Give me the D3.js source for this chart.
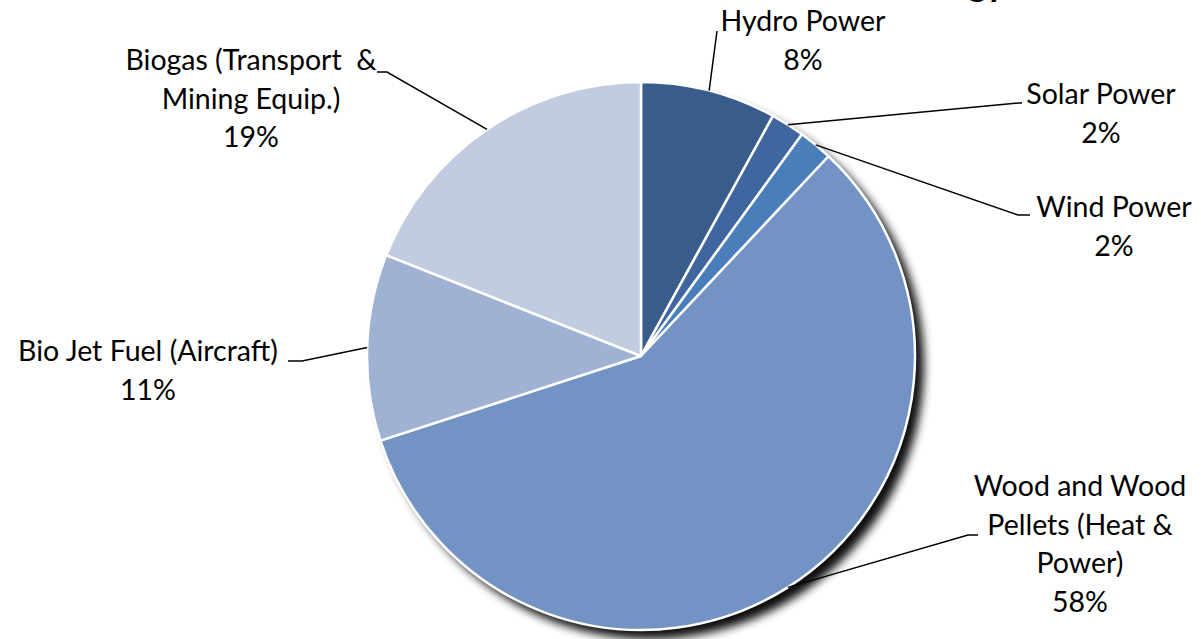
<!DOCTYPE html>
<html>
<head>
<meta charset="utf-8">
<script src="https://cdn.jsdelivr.net/npm/d3@7"></script>
<style>
  html, body { margin: 0; padding: 0; background: #fff; }
  text { font-family: Lato, "Open Sans", sans-serif; fill: #000; white-space: pre; }
</style>
</head>
<body>
<div id="chart"></div>
<script>
// slices, clockwise from 12 o'clock
var categories = ["Hydro Power", "Solar Power", "Wind Power",
  "Wood and Wood Pellets (Heat & Power)", "Bio Jet Fuel (Aircraft)",
  "Biogas (Transport & Mining Equip.)"];
var values = [8, 2, 2, 58, 11, 19];
var labelLines = [
  ["Hydro Power", "8%"],
  ["Solar Power", "2%"],
  ["Wind Power", "2%"],
  ["Wood and Wood", "Pellets (Heat &", "Power)", "58%"],
  ["Bio Jet Fuel (Aircraft)", "11%"],
  ["Biogas (Transport  &", "Mining Equip.)", "19%"]
];
var colors = ["#385d8a", "#4066a0", "#4a7ebb", "#7393c5", "#a0b2d4", "#c2cce1"];

// label layout: text centre x, first baseline y, elbow of the leader line
var labelPos = [
  { x: 803, y: 31, elbow: [[717, 31]] },
  { x: 1101, y: 104, elbow: [[1018, 103], [1022, 103]] },
  { x: 1114, y: 217, elbow: [[1018, 215], [1030, 215]] },
  { x: 1080, y: 496, elbow: [[968, 535], [978, 535]] },
  { x: 148, y: 361, elbow: [[302, 361], [288, 361]] },
  { x: 251, y: 70, elbow: [[387, 72], [377, 72]] }
];

var width = 1201, height = 639;
var cx = 641, cy = 356, radius = 274;
var lineH = 38.5;

var svg = d3.select("#chart").append("svg")
  .attr("width", width)
  .attr("height", height);

var defs = svg.append("defs");
var f = defs.append("filter").attr("id", "shadow")
  .attr("x", "-20%").attr("y", "-20%").attr("width", "140%").attr("height", "140%");
f.append("feGaussianBlur").attr("in", "SourceAlpha").attr("stdDeviation", 5).attr("result", "b");
f.append("feOffset").attr("in", "b").attr("dx", 9).attr("dy", 9).attr("result", "o");
f.append("feComponentTransfer").attr("in", "o")
  .append("feFuncA").attr("type", "linear").attr("slope", 0.95);

// cut-off title at the top edge
svg.append("text")
  .attr("x", 1006).attr("y", -4)
  .attr("text-anchor", "end")
  .style("font-size", "36px").style("font-weight", "bold")
  .text("Energy");

var pie = d3.pie().sort(null).value(function(d) { return d; });
var arcs = pie(values);
var arc = d3.arc().innerRadius(0).outerRadius(radius);

var g = svg.append("g").attr("transform", "translate(" + cx + "," + cy + ")");

g.append("circle").attr("r", radius).attr("fill", "#333").attr("filter", "url(#shadow)");

g.selectAll("path.slice")
  .data(arcs)
  .enter().append("path")
  .attr("class", "slice")
  .attr("d", arc)
  .attr("fill", function(d, i) { return colors[i]; })
  .attr("stroke", "#fff")
  .attr("stroke-width", 2.5)
  .attr("stroke-linejoin", "round");

// leader lines
arcs.forEach(function(d, i) {
  var a = (d.startAngle + d.endAngle) / 2;
  var start = [cx + Math.sin(a) * radius, cy - Math.cos(a) * radius];
  var pts = [start].concat(labelPos[i].elbow);
  svg.append("path")
    .attr("d", d3.line()(pts))
    .attr("fill", "none")
    .attr("stroke", "#000")
    .attr("stroke-width", 1.5);
});

// labels
labelLines.forEach(function(lines, i) {
  var t = svg.append("text")
    .attr("text-anchor", "middle")
    .style("font-size", "28.5px");
  lines.forEach(function(s, j) {
    t.append("tspan")
      .attr("x", labelPos[i].x)
      .attr("y", labelPos[i].y + j * lineH)
      .text(s);
  });
});
</script>
</body>
</html>
